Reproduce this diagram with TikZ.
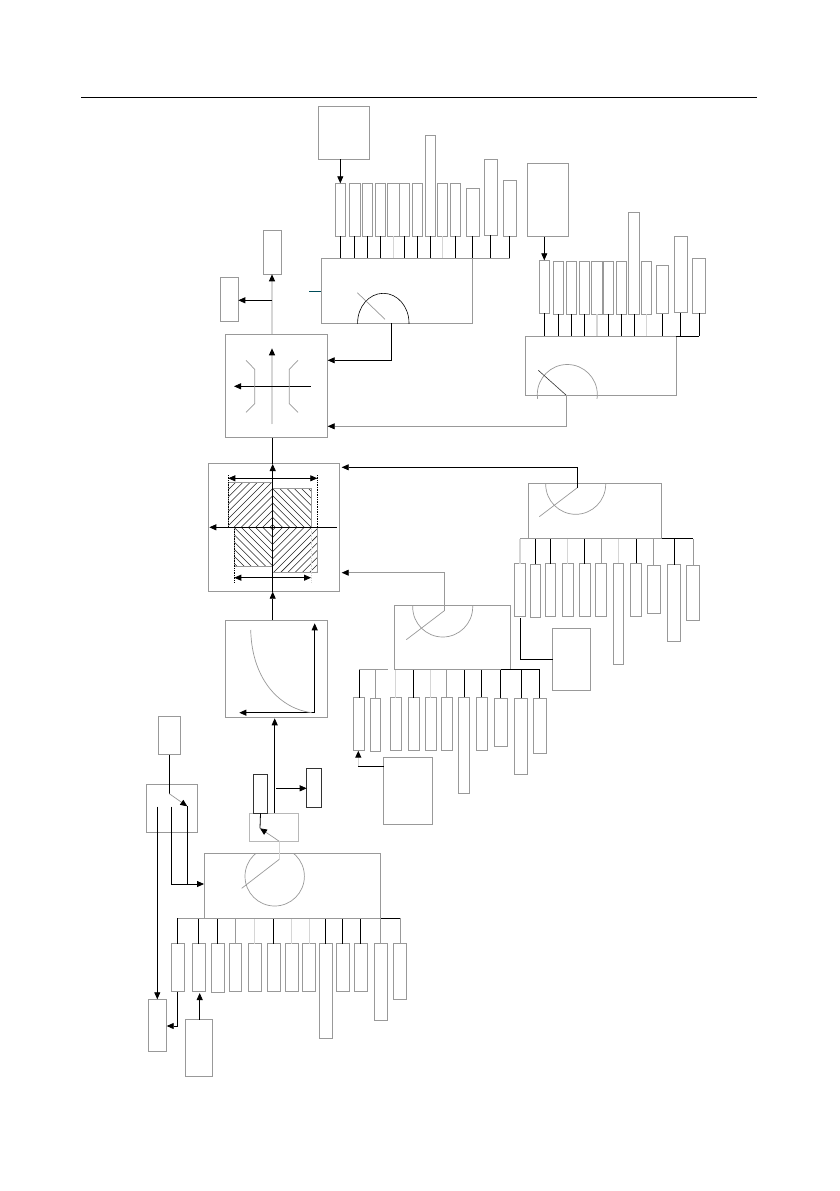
\documentclass[tikz,border=0pt]{standalone}
\usetikzlibrary{arrows.meta}
\definecolor{gl}{gray}{0.6}
\definecolor{lgt}{gray}{0.84}
\tikzset{
  box/.style={draw=gl,line width=0.75pt,inner sep=0pt,outer sep=0pt},
  dbox/.style={draw=black!80,line width=0.8pt,inner sep=0pt,outer sep=0pt},
  lbox/.style={draw=gl!70,line width=0.8pt,inner sep=0pt,outer sep=0pt},
  ln/.style={draw=black,line width=0.8pt},
  gr/.style={draw=gl,line width=0.7pt},
  lg/.style={draw=lgt,line width=1.2pt},
  tip/.style={-{Triangle[length=7pt,width=6pt,color=black,fill=black]}},
  bitip/.style={{Triangle[length=7pt,width=6pt,color=black,fill=black]}-{Triangle[length=7pt,width=6pt,color=black,fill=black]}},
  dot/.style={draw=black,line width=0.7pt,densely dotted},
  hatch/.style={draw=black!85,line width=0.55pt},
}
\newcommand{\bx}[6][box]{%
  \pgfmathsetmacro{\cxv}{(#3+#5)/2}%
  \pgfmathsetmacro{\cyv}{(#4+#6)/2}%
  \pgfmathsetmacro{\wv}{#5-#3}%
  \pgfmathsetmacro{\hv}{#6-#4}%
  \node[#1,minimum width=\wv pt,minimum height=\hv pt] (#2) at (\cxv,\cyv) {};}
\begin{document}
\begin{tikzpicture}[x=1pt,y=-1pt]
\useasboundingbox (0,0) rectangle (839,1191);
\fill[white] (0,0) rectangle (839,1191);
% header rule
\coordinate (hl) at (81,97.5); \coordinate (hr) at (757,97.5);
\draw[ln] (hl) -- (hr);

% ---------- group A (top)
\bx{A}{321}{258.3}{472.3}{323}
\bx{At}{318.3}{106.7}{369.3}{159.3}
\foreach \n/\a/\b/\c/\d/\s in {
 1/335/183.3/345.7/236/ln, 2/349.3/183.3/360/236/ln, 3/362.3/183.3/372.7/236/ln,
 4/375.3/183.3/385.3/236/ln, 5/387.7/183.3/399/236/lg, 6/399.3/183.3/409.3/236/ln,
 7/412.3/183.3/422.3/236/ln, 8/425/135.3/435.3/236/ln, 9/437.3/183.3/447.7/236/lg,
 10/450.3/183.3/460.3/236/ln, 11/466.7/188.3/479/236/ln, 12/484.3/159.3/497.3/235.3/ln,
 13/503.3/180.3/516/236/ln}{
  \bx{A\n}{\a}{\b}{\c}{\d}
  \draw[\s] (A\n.south) -- (A\n.south |- A.north);
}
\draw[gr] (A11.south |- A.north) -- (A13.south |- A.north);
\coordinate (a1t) at (340.3,159.3);
\draw[ln,tip] (a1t) -- (a1t |- A1.north);
\begin{scope}
 \clip (A.north west) rectangle (A.south east);
 \draw[draw=black,line width=0.6pt] (383.3,323) ellipse [x radius=25.7pt,y radius=29.7pt];
\end{scope}
\coordinate (an1) at (357.3,292.7); \coordinate (an2) at (385,319.3);
\draw[gr] (an1) -- (an2);
\coordinate (atick) at (309,291.3); \coordinate (atick2) at (321,291.3);
\draw[draw=black!50!blue!70!green,line width=0.6pt] (atick) -- (atick2);

% ---------- box C
\bx{C}{225.3}{334.3}{327.7}{437.7}
\bx{D}{263.7}{230.3}{281.3}{274.3}
\bx{E}{220.3}{277.7}{238.3}{321.7}
\coordinate (cv) at (272,334.3);
\draw[lg,tip] (cv) -- (cv |- D.south);
\coordinate (cj) at (272,300.3);
\draw[ln,tip] (cj) -- (cj -| E.east);
\coordinate (ci1) at (272,424.3); \coordinate (ci2) at (272,348.3);
\draw[lg,tip] (ci1) -- (ci2);
\coordinate (ch1) at (310.7,386.3); \coordinate (ch2) at (234,386.3);
\draw[ln,tip] (ch1) -- (ch2);
\coordinate (bl1) at (246,360.3); \coordinate (bl2) at (254.7,369.3);
\coordinate (bl3) at (254.7,403.7); \coordinate (bl4) at (246,412.3);
\draw[gr] (bl1) -- (bl2) -- (bl3) -- (bl4);
\coordinate (br1) at (298,360.3); \coordinate (br2) at (289.3,369.3);
\coordinate (br3) at (289.3,403.7); \coordinate (br4) at (298,412.3);
\draw[gr] (br1) -- (br2) -- (br3) -- (br4);
\coordinate (a0) at (391.7,323); \coordinate (ca) at (327.7,360.3);
\draw[ln,tip] (a0) |- (ca);

% ---------- group U (upper right)
\bx{U}{525}{336.3}{676.3}{395.3}
\bx{Ut}{527.3}{163.3}{568.7}{236.7}
\foreach \n/\a/\b/\c/\d/\s in {
 1/539.3/260.3/549.7/313.3/ln, 2/553.3/261.3/563.7/314.3/ln, 3/566.3/261.3/576.7/314.3/ln,
 4/579.3/261.3/589.7/314.3/ln, 5/591.7/261.3/602.3/314.3/lg, 6/603.3/261.3/613.7/314.3/ln,
 7/616.3/261.3/626.7/314.3/ln, 8/628.7/212.7/639.3/314.3/ln, 9/641.3/261.3/651.7/314.3/lg,
 10/656.3/265.7/668.7/313.7/ln, 11/674.3/236.3/687/312.7/ln, 12/692.7/258.3/705.7/313.3/ln}{
  \bx{U\n}{\a}{\b}{\c}{\d}
  \draw[\s] (U\n.south) -- (U\n.south |- U.north);
}
\draw[ln] (U.north east) -- (U12.south |- U.north);
\coordinate (u1t) at (544.3,236.7);
\draw[ln,tip] (u1t) -- (u1t |- U1.north);
\begin{scope}
 \clip (525,340) rectangle (676.3,398);
 \draw[gr] (567.3,394.5) circle (30pt);
\end{scope}
\coordinate (un1) at (538.3,370.3); \coordinate (un2) at (566.3,395.3);
\draw[draw=black!80,line width=0.6pt] (un1) -- (un2);
\coordinate (cb) at (327.7,426.3);
\draw[gr,tip] (un2) |- (cb);

% ---------- box F
\bx{F}{208.3}{463}{339.3}{591.7}
\coordinate (hc) at (272.7,527.3);
\begin{scope}
 \clip (228.3,482.3) rectangle (272.7,527.3)
       (272.7,488.3) rectangle (311,527.3)
       (234.3,527.3) rectangle (272.7,566.3)
       (272.7,527.3) rectangle (317.3,572.3);
 \foreach \k in {1,...,13}{
  \pgfmathsetmacro{\rr}{\k*7.2-4.5}
  \draw[hatch,shift={(hc)}] (\rr,0) -- (0,\rr) -- (-\rr,0) -- (0,-\rr) -- cycle;
 }
\end{scope}
\draw[gr] (228.3,527.3) -- (228.3,482.3) -- (272.7,482.3);
\draw[gr] (272.7,488.3) -- (311,488.3) -- (311,527.3);
\draw[gr] (234.3,527.3) -- (234.3,566.3) -- (272.7,566.3);
\draw[gr] (272.7,572.3) -- (317.3,572.3) -- (317.3,527.3);
\coordinate (d1a) at (228.3,475); \coordinate (d1b) at (228.3,527.3);
\coordinate (d2a) at (317.3,475); \coordinate (d2b) at (317.3,527.3);
\coordinate (d3a) at (234.3,527.3); \coordinate (d3b) at (234.3,582.7);
\coordinate (d4a) at (311,527.3); \coordinate (d4b) at (311,582.7);
\draw[dot] (d1a) -- (d1b); \draw[dot] (d2a) -- (d2b); \draw[dot] (d3a) -- (d3b);
\draw[dot,draw=lgt] (d4a) -- (d4b);
\coordinate (dt1) at (228.3,478.3); \coordinate (dt2) at (317.3,478.3);
\draw[ln,bitip] (dt1) -- (dt2);
\coordinate (db1) at (234.3,577.7); \coordinate (db2) at (311,577.7);
\draw[ln,bitip] (db1) -- (db2);
\coordinate (fh1) at (336.7,527.3); \coordinate (fh2) at (209.3,527.3);
\draw[ln,tip] (fh1) -- (fh2);
\coordinate (fv1) at (272.7,591.7); \coordinate (fv2) at (272.7,464);
\draw[ln,tip] (fv1) -- (fv2);
\coordinate (cf) at (272.7,437.7);
\draw[ln] (cf) -- (fv2);
\coordinate (fp) at (341.7,467.3); \coordinate (fr) at (341.7,572.7);

% ---------- box G
\bx{G}{225.7}{620}{327.3}{717.7}
\draw[ln,tip] (G.north -| fv1) -- (fv1);
\coordinate (go) at (314.7,712.7); \coordinate (gy) at (314.7,623.3); \coordinate (gx) at (239.3,712.7);
\draw[ln,tip] (go) -- (gy); \draw[ln,tip] (go) -- (gx);
\coordinate (gc1) at (250.7,630); \coordinate (gc2) at (311.7,712.7);
\draw[gr] (gc1) .. controls (252,682) and (282,709) .. (gc2);

% ---------- group P (right)
\bx{P}{528.3}{483.3}{661.7}{538.7}
\bx{Q}{552.7}{628.3}{590}{690.7}
\foreach \n/\a/\b/\c/\d/\s in {
 1/514.7/563.7/525.3/616.3/lg, 2/530.3/564.3/540.7/617.3/ln, 3/545/563.7/555.3/616.3/ln,
 4/562.3/563.7/573/616.3/lg, 5/579.3/563.7/590.3/616.3/ln, 6/595.7/563.7/606.3/616.3/gr,
 7/613.3/563.3/623.7/664/lg, 8/630.7/563.3/641.3/616.3/ln, 9/647.3/565.3/660/613/gr,
 10/667.7/564.7/680.3/641/ln, 11/686.7/565.3/699.3/620.3/gr}{
  \bx{P\n}{\a}{\b}{\c}{\d}
  \draw[\s] (P\n.north) -- (P\n.north |- P.south);
}
\draw[gr] (P1.north |- P.south) -- (P.south east);
\draw[ln] (P.south east) -- (P11.north |- P.south);
\begin{scope}
 \clip (P.north west) rectangle (P.south east);
 \draw[gr] (575.7,484.3) circle (30pt);
\end{scope}
\coordinate (pn1) at (539.3,516.7); \coordinate (pn2) at (577.3,487.7);
\draw[gr] (pn1) -- (pn2);
\draw[ln,tip] (pn2) |- (fp);
\coordinate (qj) at (520.3,618.3);
\draw[ln] (qj) |- (Q.west);

% ---------- group R (middle)
\bx{R}{394.3}{605.3}{510.7}{669.7}
\bx{S}{383.7}{757.3}{432.3}{824.7}
\foreach \n/\a/\b/\c/\d/\s in {
 1/353.7/697.7/364.3/750.7/ln, 2/370.3/698.3/380.7/751.7/gr, 3/390.3/697.7/401.3/750.7/lg,
 4/408.3/697.7/419/750.7/ln, 5/425.3/697.7/436/750.7/lg, 6/441.3/697.7/452.3/750.7/gr,
 7/458.7/697.3/469.3/793/ln, 8/476.3/697.3/487/750.7/ln, 9/494.3/698.3/507/746.3/ln,
 10/514.7/698.3/527.3/774.3/ln, 11/533.3/698.3/546.3/753.7/ln}{
  \bx{R\n}{\a}{\b}{\c}{\d}
  \draw[\s] (R\n.north) -- (R\n.north |- R.south);
}
\coordinate (rgap) at (387.7,669.7);
\draw[gr] (R1.north |- R.south) -- (rgap);
\draw[gr] (R.south west) -- (R9.north |- R.south);
\draw[ln] (R9.north |- R.south) -- (R11.north |- R.south);
\begin{scope}
 \clip (R.north west) rectangle (R.south east);
 \draw[gr] (442.7,607) circle (30pt);
\end{scope}
\coordinate (rn1) at (406.3,639.7); \coordinate (rn2) at (444.3,610.7);
\draw[gr] (rn1) -- (rn2);
\draw[gr,tip] (rn2) |- (fr);
\coordinate (sr) at (383.7,766); \coordinate (sb) at (358.3,766);
\draw[ln] (sr) -- (sb);
\draw[lg,tip] (sb) -- (sb |- R1.south);

% ---------- group J (bottom)
\bx{J}{204.3}{853.3}{380.7}{918.3}
\bx{H}{158.7}{716.3}{180}{754.7}
\bx{I}{146.3}{784.3}{197.3}{832.3}
\bx{K}{148.3}{999.3}{166.7}{1051.7}
\bx{O}{185.7}{1019.7}{212.7}{1076.7}
\bx[lbox]{L}{249.7}{813.3}{298.3}{841.3}
\bx[dbox]{M}{253.3}{774.7}{267.7}{813.3}
\bx[dbox]{N}{306.7}{768.3}{321.3}{807}
\foreach \n/\a/\b/\c/\d/\s in {
 1/171.3/943.7/184.3/991.7/ln, 2/192.3/943.7/205.3/991.7/ln, 3/211.3/943.7/224.3/992.3/ln,
 4/229/943.7/241.7/991.7/gr, 5/248.3/943.7/261/991.7/lg, 6/267/943.7/280.3/991.7/ln,
 7/285/943.7/298.3/991.7/lg, 8/302.7/943.7/315.7/991.7/lg, 9/319.3/943.7/332.3/1038/ln,
 10/336.3/943.7/349.3/991.7/ln, 11/354.3/943.7/367.3/991.7/ln, 12/374.3/943.3/387.3/1020/gr,
 13/393.3/943.7/406.7/999.3/gr}{
  \bx{J\n}{\a}{\b}{\c}{\d}
  \draw[\s] (J\n.north) -- (J\n.north |- J.south);
}
\draw[gr] (J1.north |- J.south) -- (J.south east);
\draw[ln] (J.south east) -- (J13.north |- J.south);
\begin{scope}
 \clip (J.north west) rectangle (J.south east);
 \draw[gr] (274.7,876.3) circle (29.7pt);
\end{scope}
\coordinate (jn1) at (241.7,888.3); \coordinate (jn2) at (279.3,859.3); \coordinate (jn3) at (279.3,841.3);
\draw[gr] (jn1) -- (jn2);
\draw[lg] (jn2) -- (jn3);
\coordinate (mb) at (260,828.3);
\draw[ln] (M.south) -- (mb);
\draw[gr,tip] (jn3) -- (mb);
\coordinate (lg1) at (274.7,813.3); \coordinate (gb) at (274.7,718.3);
\draw[ln,tip] (lg1) -- (gb);
\coordinate (ln1) at (276,788.3);
\draw[ln,tip] (ln1) -- (ln1 -| N.west);
% switch
\coordinate (sw0) at (169.3,793.7); \coordinate (sw1) at (187.3,806.3);
\draw[ln] (H.south -| sw0) -- (sw0);
\draw[gr,tip] (sw0) -- (sw1);
\coordinate (sw2) at (187.3,884); \coordinate (sw3) at (171.3,806.7);
\coordinate (jw) at (204,884);
\coordinate (sw5) at (157.3,806.7);
\draw[ln] (sw1) -- (sw2);
\draw[ln,tip] (sw3) |- (jw);
\draw[ln,tip] (sw5) -- (K.north -| sw5);
\coordinate (jb) at (178.3,1026);
\draw[ln,tip] (J1.south) |- (K.east |- jb);
\coordinate (ot) at (199.7,1019.7); \coordinate (ob) at (199.7,993);
\draw[ln,tip] (ot) -- (ob);
\end{tikzpicture}
\end{document}
